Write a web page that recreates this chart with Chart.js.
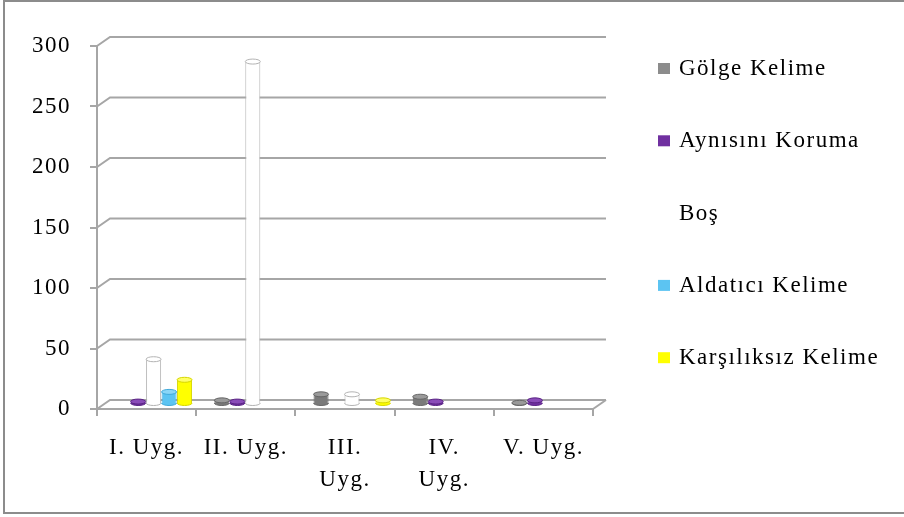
<!DOCTYPE html>
<html>
<head>
<meta charset="utf-8">
<script src="https://cdn.jsdelivr.net/npm/chart.js@4/dist/chart.umd.min.js"></script>
<style>
  html, body { margin: 0; padding: 0; background: #fff; }
  #caja { width: 904px; height: 517px; }
</style>
</head>
<body>
<div id="caja"><canvas id="grafico" width="904" height="517"></canvas></div>
<script>
// categorias (uygulamalar)
const categorias = ['I. Uyg.', 'II. Uyg.', ['III.', 'Uyg.'], ['IV.', 'Uyg.'], 'V. Uyg.'];
const ticksY = [0, 50, 100, 150, 200, 250, 300];

// valores por serie
const golgeKelime = [0, 3, 8, 6, 1];
const aynisiniKoruma = [2, 2, 0, 2, 3];
const bos = [37, 283, 8, 0, 0];
const aldaticiKelime = [10, 0, 0, 0, 0];
const karsiliksizKelime = [20, 0, 3, 0, 0];

const fuente = '"Liberation Serif", "Times New Roman", serif';
const gris = '#a6a6a6';
// profundidad del efecto 3d
const DX = 13, DY = 9;

// el texto del original es algo mas ancho
// (se pone en beforeDraw porque al dimensionar el canvas se pierde el estado)
const espaciado = {
  id: 'espaciado',
  beforeDraw(chart) { chart.ctx.letterSpacing = '1.5px'; }
};

// lineas de fondo con el codo en perspectiva
const paredes = {
  id: 'paredes',
  beforeDatasetsDraw(chart) {
    const { ctx, chartArea: a, scales: { y } } = chart;
    ctx.save();
    ctx.strokeStyle = gris;
    ctx.lineWidth = 2;
    ticksY.forEach(v => {
      const py = y.getPixelForValue(v);
      ctx.beginPath();
      ctx.moveTo(a.left, py);
      ctx.lineTo(a.left + DX, py - DY);
      ctx.lineTo(a.right + DX, py - DY);
      ctx.stroke();
    });
    const y0 = y.getPixelForValue(0);
    ctx.beginPath();
    ctx.moveTo(a.right, y0);
    ctx.lineTo(a.right + DX, y0 - DY);
    ctx.stroke();
    ctx.restore();
    // barras a media profundidad
    ctx.save();
    ctx.translate(Math.round(DX / 2), -Math.round(DY / 2));
  },
  afterDatasetsDraw(chart) {
    const ctx = chart.ctx;
    // tapas elipticas para que parezcan cilindros
    chart.data.datasets.forEach((ds, i) => {
      chart.getDatasetMeta(i).data.forEach((bar, j) => {
        if (!ds.data[j]) return;
        const rx = bar.width / 2;
        ctx.beginPath();
        ctx.ellipse(bar.x, bar.base, rx, 2.5, 0, 0, Math.PI);
        ctx.fillStyle = ds.backgroundColor;
        ctx.fill();
        ctx.strokeStyle = ds.borderColor;
        ctx.lineWidth = 1;
        ctx.stroke();
        ctx.beginPath();
        ctx.ellipse(bar.x, bar.y, rx, 2.5, 0, 0, Math.PI * 2);
        ctx.fillStyle = ds.tapa;
        ctx.fill();
        ctx.stroke();
      });
    });
    ctx.restore();
  }
};

// leyenda a la derecha, "Boş" sin cuadro visible
const leyenda = {
  id: 'leyenda',
  afterDraw(chart) {
    const { ctx, chartArea: a } = chart;
    const x = a.right + 65;
    ctx.save();
    ctx.font = '23px ' + fuente;
    ctx.textBaseline = 'middle';
    chart.data.datasets.forEach((ds, i) => {
      const cy = 69 + i * 72.3;
      ctx.fillStyle = ds.legendColor;
      ctx.fillRect(x, cy - 6, 12, 11);
      ctx.fillStyle = '#000';
      ctx.fillText(ds.label, x + 21, cy);
    });
    // marco exterior
    ctx.strokeStyle = '#8c8c8c';
    ctx.lineWidth = 2;
    ctx.strokeRect(4, 1, 920, 512);
    ctx.restore();
  }
};

function serie(label, data, fondo, borde, tapa, legendColor) {
  return {
    label, data,
    backgroundColor: fondo,
    borderColor: borde,
    borderWidth: 1,
    borderSkipped: 'start',
    tapa, legendColor,
    categoryPercentage: 0.78,
    barPercentage: 0.97,
    clip: false
  };
}

new Chart(document.getElementById('grafico'), {
  type: 'bar',
  data: {
    labels: categorias,
    datasets: [
      serie('Gölge Kelime', golgeKelime, '#7a7a7a', '#666666', '#9a9a9a', '#8c8c8c'),
      serie('Aynısını Koruma', aynisiniKoruma, '#7030a0', '#5a2485', '#8a4cb8', '#7030a0'),
      serie('Boş', bos, '#ffffff', '#b3b3b3', '#ffffff', '#ffffff'),
      serie('Aldatıcı Kelime', aldaticiKelime, '#5cc4f2', '#3fa9da', '#8ad6f7', '#5cc4f2'),
      serie('Karşılıksız Kelime', karsiliksizKelime, '#ffff00', '#d6d600', '#ffff66', '#ffff00')
    ]
  },
  options: {
    responsive: false,
    animation: false,
    events: [],
    layout: { padding: { top: 46, right: 311, bottom: 0, left: 0 } },
    plugins: {
      legend: { display: false },
      tooltip: { enabled: false }
    },
    scales: {
      x: {
        grid: { drawOnChartArea: false, drawTicks: true, tickLength: 7, color: gris, lineWidth: 2 },
        border: { display: true, color: gris, width: 2 },
        ticks: {
          color: '#000',
          font: { family: fuente, size: 23, lineHeight: 1.4 },
          padding: 16,
          maxRotation: 0,
          autoSkip: false
        },
        afterFit(s) { s.height = 108; }
      },
      y: {
        min: 0,
        max: 300,
        grid: { drawOnChartArea: false, drawTicks: true, tickLength: 7, color: gris, lineWidth: 2 },
        border: { display: true, color: gris, width: 2 },
        ticks: {
          stepSize: 50,
          color: '#000',
          font: { family: fuente, size: 23 },
          padding: 19
        },
        afterFit(s) { s.width = 97; }
      }
    }
  },
  plugins: [espaciado, paredes, leyenda]
});
</script>
</body>
</html>
